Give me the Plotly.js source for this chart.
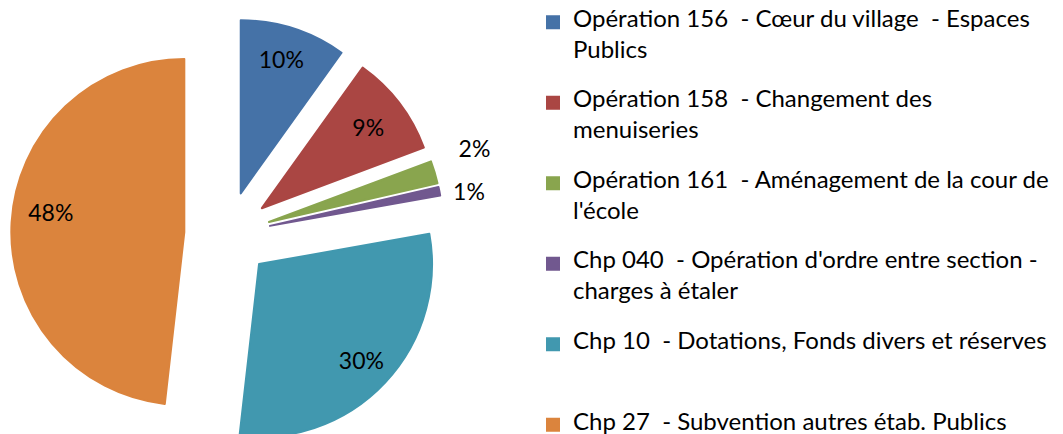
<!DOCTYPE html>
<html>
<head>
<meta charset="utf-8">
<script src="https://cdn.plot.ly/plotly-3.0.1.min.js"></script>
<style>
  html, body { margin: 0; padding: 0; background: #ffffff; overflow: hidden; }
  #chart { width: 1063px; height: 452px; }
</style>
</head>
<body>
<div id="chart"></div>
<script>
// ---- data ----
const categories = [
  ["Opération 156  - Cœur du village  - Espaces", "Publics"],
  ["Opération 158  - Changement des", "menuiseries"],
  ["Opération 161  - Aménagement de la cour de", "l'école"],
  ["Chp 040  - Opération d'ordre entre section -", "charges à étaler"],
  ["Chp 10  - Dotations, Fonds divers et réserves"],
  ["Chp 27  - Subvention autres étab. Publics"]
];
const shares = [9.9, 9.4, 2.1, 0.8, 29.6, 48.2];
const sliceColors = ["#4572A7", "#AA4643", "#89A54E", "#71588F", "#4198AF", "#DB843D"];
const labelPositions = ["inside", "inside", "outside", "outside", "inside", "inside"];

// ---- styling helpers ----
const NB = "\u00a0";
const FONT = "Lato, 'Liberation Sans', sans-serif";
const big = (s, px) => `<span style="font-size:${px}px;color:#000000;fill-opacity:1">${s}</span>`;

// legend text: small base font gives a 15.5px line step; real text is shown at 24px
const legendText = categories.map((lines, i) => {
  const l1 = big(lines[0], 24);
  const l2 = lines[1] ? big(lines[1], 24) : NB;
  if (i === categories.length - 1) return l1;
  return [l1, NB, l2, NB, NB].join("<br>");
});

// percent labels (placement padding per slice, like the reference layout)
const pct = "%{percent:.0%}";
const pad = [
  { pre: "", post: "<br>" + NB, wrap: true },                      // 10%
  { pre: "", post: "" },                                            // 9%
  { pre: NB.repeat(4), post: "<br>" + NB },                         // 2%
  { pre: NB.repeat(2), post: "" },                                  // 1%
  { pre: NB + "<br>" + NB + "<br>" + NB.repeat(11), post: "" },     // 30%
  { pre: "", post: NB.repeat(16) + "<br>" + NB }                    // 48%
];
const templates = pad.map((p, i) => {
  if (labelPositions[i] === "outside" || p.wrap) return p.pre + big(pct, 23) + p.post;
  return p.pre + pct + p.post;
});
const insideSizes = pad.map(p => (p.wrap ? 14 : 23));

const W = 1063, H = 452;
const cx = 227.5, cy = 234.5, half = 216.25;

const trace = {
  type: "pie",
  labels: legendText,
  values: shares,
  sort: false,
  direction: "clockwise",
  rotation: 0,
  pull: shares.map(() => 0.25),
  marker: { colors: sliceColors, line: { color: sliceColors, width: 2 } },
  texttemplate: templates,
  textposition: labelPositions,
  insidetextorientation: "horizontal",
  insidetextfont: { family: FONT, size: insideSizes, color: "#000000" },
  outsidetextfont: { family: FONT, size: 13, color: "rgba(0,0,0,0)" },
  hoverinfo: "percent",
  domain: {
    x: [(cx - half) / W, (cx + half) / W],
    y: [(H - (cy + half)) / H, (H - (cy - half)) / H]
  }
};

const layout = {
  width: W,
  height: H,
  margin: { l: 0, r: 0, t: 0, b: 0 },
  paper_bgcolor: "#ffffff",
  plot_bgcolor: "#ffffff",
  showlegend: true,
  legend: {
    x: 533 / W,
    xanchor: "left",
    y: 1 - 8 / H,
    yanchor: "top",
    valign: "top",
    font: { family: FONT, size: 15.5 / 1.3, color: "#000000" },
    bgcolor: "rgba(0,0,0,0)",
    borderwidth: 0
  }
};

Plotly.newPlot("chart", [trace], layout, { displayModeBar: false, staticPlot: true });
</script>
</body>
</html>
